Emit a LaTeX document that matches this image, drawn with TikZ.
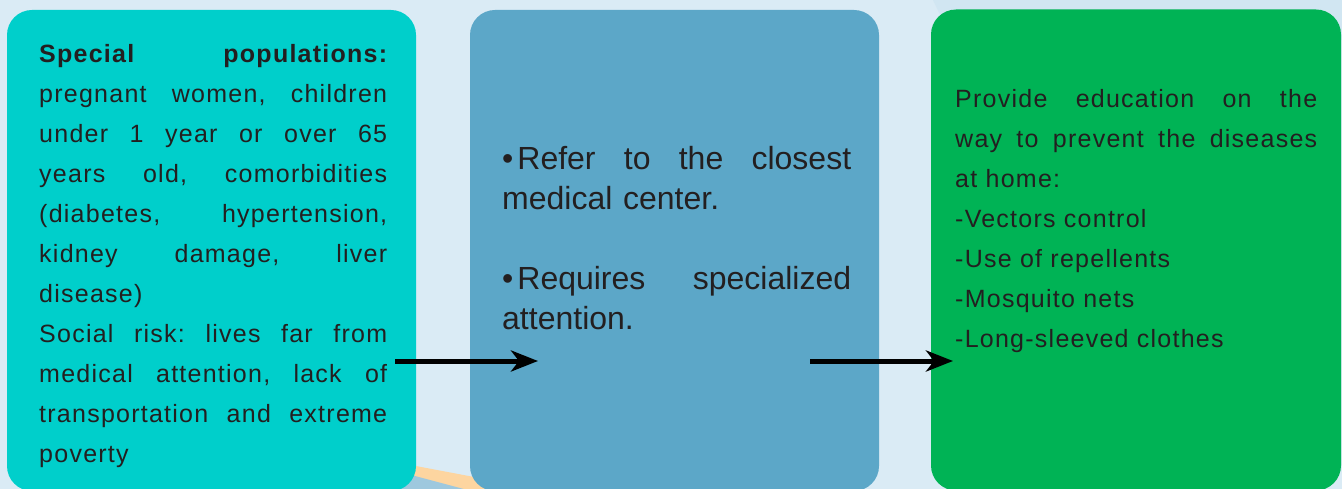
\documentclass[tikz,border=0pt]{standalone}
\usepackage{fontspec}
\setmainfont{Liberation Sans}
\newfontfamily\trk{Liberation Sans}[LetterSpace=5]
\usetikzlibrary{arrows.meta}
\frenchspacing

\definecolor{bgblue}{HTML}{DAEBF5}
\definecolor{bgblueb}{HTML}{D1E6F2}
\definecolor{deepblue}{HTML}{9EC8DE}
\definecolor{peach}{HTML}{FDD5A0}
\definecolor{turq}{HTML}{00CFCB}
\definecolor{steel}{HTML}{5CA7C8}
\definecolor{leaf}{HTML}{00B355}
\definecolor{ink}{HTML}{231F20}

% one justified line, stretched to the full text width
\newcommand\jl[1]{\makebox[\hsize][s]{\frenchspacing\spaceskip=0pt\xspaceskip=0pt #1}}
% bullet mark in front of an item
\newcommand\blt{•\kern4pt}

\tikzset{
  panel/.style={rounded corners=25pt, inner sep=0pt, outer sep=0pt,
                minimum height=481pt, text=ink},
  body/.style={anchor=base west, inner sep=0pt, align=left, text=ink,
               font=\trk\fontsize{25}{40}\selectfont},
  bigbody/.style={anchor=base west, inner sep=0pt, align=left, text=ink,
                  font=\fontsize{32}{40}\selectfont},
  flow/.style={line width=5pt, draw=black,
               -{Stealth[length=27pt, width=21pt, inset=8pt]}}
}

\begin{document}
\begin{tikzpicture}[x=1pt, y=-1pt]
  \useasboundingbox (0,0) rectangle (1342,489);
  % backdrop
  \fill[bgblue] (0,0) rectangle (1342,489);
  \fill[bgblueb] (933,0) -- (1342,0) -- (1342,40) -- (952,40) -- cycle;
  \fill[peach] (400,463) -- (490,480) -- (490,495) -- (400,495) -- cycle;
  \fill[deepblue] (400,472) -- (490,496) -- (400,496) -- cycle;

  % the three panels
  \node[panel, fill=turq,  minimum width=409pt] (b1) at (211.5,250.5) {};
  \node[panel, fill=steel, minimum width=409pt] (b2) at (674.5,250.5) {};
  \node[panel, fill=leaf,  minimum width=410pt] (b3) at (1136,250) {};

  % panel texts
  \node[body, text width=348pt] (t1) at (39,63) {%
    \jl{\bfseries Special populations:}\\
    \jl{pregnant women, children}\\
    \jl{under 1 year or over 65}\\
    \jl{years old, comorbidities}\\
    \jl{(diabetes, hypertension,}\\
    \jl{kidney damage, liver}\\
    disease)\\
    \jl{Social risk: lives far from}\\
    \jl{medical attention, lack of}\\
    \jl{transportation and extreme}\\
    poverty};

  \node[bigbody, text width=349pt] (t2) at (502,170) {%
    \jl{\blt Refer to the closest}\\
    medical center.\\[40pt]
    \jl{\blt Requires specialized}\\
    attention.};

  \node[body, text width=362pt] (t3) at (955,108) {%
    \jl{Provide education on the}\\
    \jl{way to prevent the diseases}\\
    at home:\\
    -Vectors control\\
    -Use of repellents\\
    -Mosquito nets\\
    -Long-sleeved clothes};

  % flow arrows between panels
  \draw[flow] ([xshift=-21pt, yshift=-110.5pt]b1.east) -- ([xshift=68pt, yshift=-110.5pt]b2.west);
  \draw[flow] ([xshift=-69pt, yshift=-110.5pt]b2.east) -- ([xshift=22pt, yshift=-111pt]b3.west);
\end{tikzpicture}
\end{document}
